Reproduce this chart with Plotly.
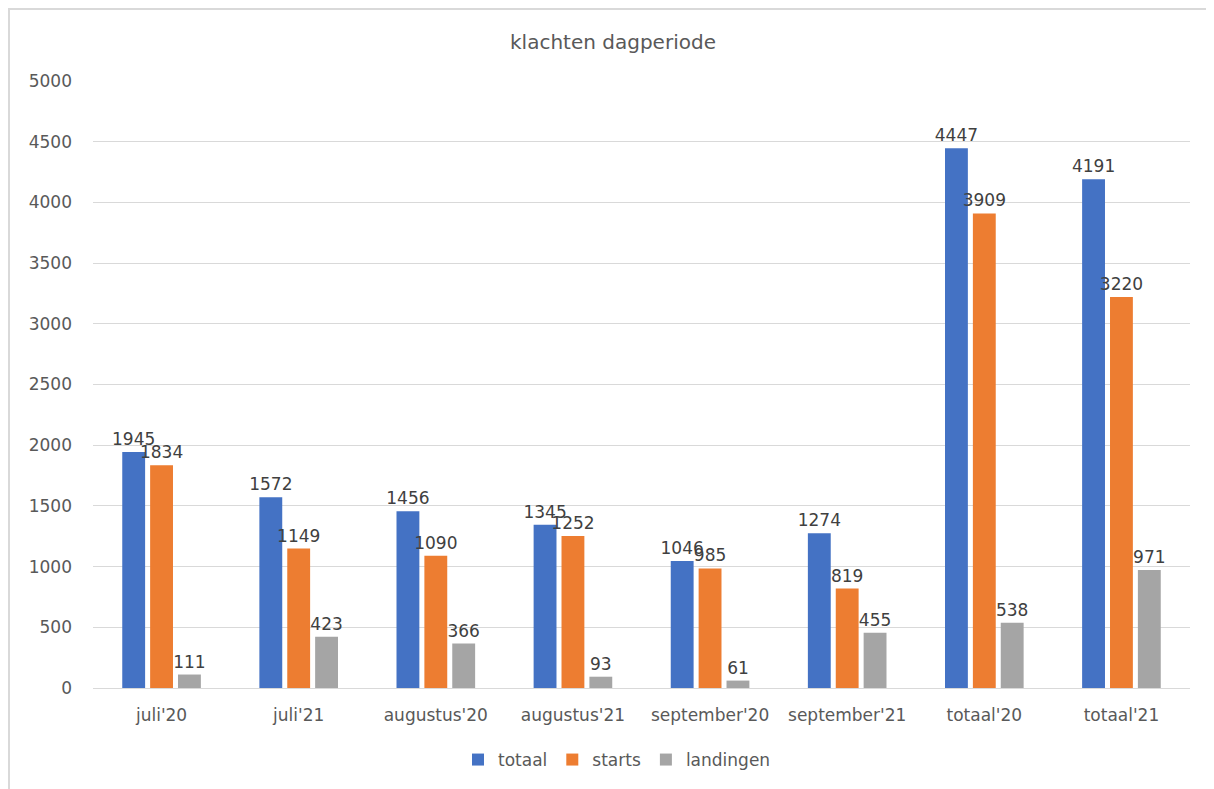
import plotly.graph_objects as go

categories = ["juli'20", "juli'21", "augustus'20", "augustus'21",
              "september'20", "september'21", "totaal'20", "totaal'21"]
totaal = [1945, 1572, 1456, 1345, 1046, 1274, 4447, 4191]
starts = [1834, 1149, 1090, 1252, 985, 819, 3909, 3220]
landingen = [111, 423, 366, 93, 61, 455, 538, 971]

series = [("totaal", totaal, "#4472C4"),
          ("starts", starts, "#ED7D31"),
          ("landingen", landingen, "#A5A5A5")]

FONT = "'DejaVu Sans', sans-serif"
GREY = "#595959"

# page body has an 8px margin; figure offset compensated, right/bottom run off-screen
W, H = 1214, 789
L, T, R, B = 85, 73, 32, 109
pw, ph = W - L - R, H - T - B

fig = go.Figure()
for name, vals, col in series:
    fig.add_trace(go.Bar(
        x=categories, y=vals, name=name,
        marker=dict(color=col, line=dict(width=0)),
        text=[str(v) for v in vals], textposition="outside",
        textfont=dict(size=17, color="#404040", family=FONT),
        constraintext="none", cliponaxis=False,
    ))

fig.update_layout(
    width=W, height=H,
    margin=dict(l=L, r=R, t=T, b=B),
    paper_bgcolor="white", plot_bgcolor="white",
    barmode="group", bargap=0.39, bargroupgap=0.18,
    title=dict(text="klachten dagperiode", x=(613 - 8) / W, xanchor="center",
               y=1 - 34 / H, yanchor="middle",
               font=dict(size=20, color=GREY, family=FONT)),
    font=dict(family=FONT, color=GREY),
    showlegend=True,
    legend=dict(orientation="h", x=(617 - 93) / pw, xanchor="center",
                y=-(760 - 688) / ph, yanchor="middle",
                font=dict(size=17, color=GREY, family=FONT), itemwidth=30,
                traceorder="normal"),
    xaxis=dict(showgrid=False, showline=True, linecolor="#d9d9d9", linewidth=1,
               ticks="", tickfont=dict(size=17, color=GREY, family=FONT),
               ticklabelstandoff=12),
    yaxis=dict(range=[0, 5000], dtick=500, showgrid=True, gridcolor="#d9d9d9",
               gridwidth=1, zeroline=False, showline=False, ticks="",
               tickfont=dict(size=17, color=GREY, family=FONT),
               ticklabelstandoff=20),
    shapes=[dict(type="rect", xref="paper", yref="paper",
                 x0=-(L - 1) / pw, x1=(W - L + 10) / pw,
                 y0=-(B + 10) / ph, y1=(ph + T - 1) / ph,
                 line=dict(color="#d9d9d9", width=2), fillcolor="rgba(0,0,0,0)",
                 layer="below")],
)

fig.write_html("out.html")
